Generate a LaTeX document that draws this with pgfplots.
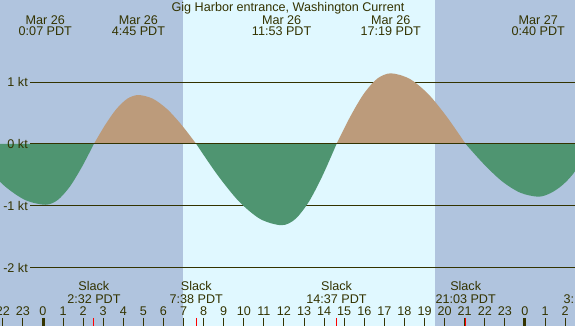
\documentclass[border=0pt]{standalone}
\usepackage{pgfplots}
\pgfplotsset{compat=1.18}
\usepackage{fontspec}
\setmainfont{Liberation Sans}
\definecolor{night}{RGB}{176,196,222}
\definecolor{day}{RGB}{224,248,255}
\definecolor{flood}{RGB}{188,155,123}
\definecolor{ebb}{RGB}{79,149,113}
\definecolor{ink}{RGB}{51,51,0}
\begin{document}
\begin{tikzpicture}[font=\fontsize{12.6bp}{14bp}\selectfont, every node/.style={text=ink, inner sep=0pt}]
\useasboundingbox (0,0) rectangle (575bp,326bp);
\clip (0,0) rectangle (575bp,326bp);
\begin{axis}[at={(0,0)}, anchor=south west, scale only axis,
  width=575bp, height=326bp,
  xmin=-2.1414, xmax=26.494, ymin=-2.9355, ymax=2.3226,
  axis lines=none, clip=true]
% day / night
\fill[night] (axis cs:-3,-3) rectangle (axis cs:6.972,3);
\fill[day] (axis cs:6.972,-3) rectangle (axis cs:19.522,3);
\fill[night] (axis cs:19.522,-3) rectangle (axis cs:27,3);
% grid lines
\draw[ink, line width=1bp] (axis cs:-0.647,1) -- (axis cs:27,1);
\draw[ink, line width=1bp] (axis cs:-0.647,-1) -- (axis cs:27,-1);
\draw[ink, line width=1bp] (axis cs:-0.647,-2) -- (axis cs:27,-2);
% current lobes
\addplot[draw=none, fill=ebb, smooth] coordinates {(-3.83,0) (-2.843,-0.375) (-1.857,-0.693) (-0.870,-0.906) (0.117,-0.98) (0.721,-0.906) (1.325,-0.693) (1.929,-0.375) (2.533,0)} \closedcycle;
\addplot[draw=none, fill=flood, smooth] coordinates {(2.533,0) (3.087,0.303) (3.642,0.559) (4.196,0.730) (4.75,0.79) (5.471,0.730) (6.192,0.559) (6.912,0.303) (7.633,0)} \closedcycle;
\addplot[draw=none, fill=ebb, smooth] coordinates {(7.633,0) (8.696,-0.502) (9.758,-0.926) (10.821,-1.210) (11.883,-1.31) (12.567,-1.210) (13.250,-0.926) (13.934,-0.502) (14.617,0)} \closedcycle;
\addplot[draw=none, fill=flood, smooth] coordinates {(14.617,0) (15.292,0.436) (15.967,0.806) (16.642,1.053) (17.317,1.14) (18.250,1.053) (19.184,0.806) (20.117,0.436) (21.05,0)} \closedcycle;
\addplot[draw=none, fill=ebb, smooth] coordinates {(21.05,0) (21.954,-0.325) (22.858,-0.601) (23.763,-0.785) (24.667,-0.85) (25.290,-0.79) (25.914,-0.65) (26.537,-0.42) (27.16,0)} \closedcycle;
\draw[ink, line width=1bp] (axis cs:-0.647,0) -- (axis cs:27,0);
% kt labels
\node[anchor=east] at (axis cs:-0.747,1) {1 kt};
\node[anchor=east] at (axis cs:-0.747,0) {0 kt};
\node[anchor=east] at (axis cs:-0.747,-1) {-1 kt};
\node[anchor=east] at (axis cs:-0.747,-2) {-2 kt};
% title and extremes
\node[anchor=base] at (axis cs:12.2,2.145) {Gig Harbor entrance, Washington Current};
\node[anchor=base] at (axis cs:0.117,1.935) {Mar 26};
\node[anchor=base] at (axis cs:0.117,1.747) {0:07 PDT};
\node[anchor=base] at (axis cs:4.75,1.935) {Mar 26};
\node[anchor=base] at (axis cs:4.75,1.747) {4:45 PDT};
\node[anchor=base] at (axis cs:11.883,1.935) {Mar 26};
\node[anchor=base] at (axis cs:11.883,1.747) {11:53 PDT};
\node[anchor=base] at (axis cs:17.317,1.935) {Mar 26};
\node[anchor=base] at (axis cs:17.317,1.747) {17:19 PDT};
\node[anchor=base] at (axis cs:24.667,1.935) {Mar 27};
\node[anchor=base] at (axis cs:24.667,1.747) {0:40 PDT};
% slack labels
\node[anchor=base] at (axis cs:2.533,-2.366) {Slack};
\node[anchor=base] at (axis cs:2.533,-2.576) {2:32 PDT};
\node[anchor=base] at (axis cs:7.633,-2.366) {Slack};
\node[anchor=base] at (axis cs:7.633,-2.576) {7:38 PDT};
\node[anchor=base] at (axis cs:14.617,-2.366) {Slack};
\node[anchor=base] at (axis cs:14.617,-2.576) {14:37 PDT};
\node[anchor=base] at (axis cs:21.05,-2.366) {Slack};
\node[anchor=base] at (axis cs:21.05,-2.576) {21:03 PDT};
\node[anchor=base] at (axis cs:27.25,-2.366) {Slack};
\node[anchor=base] at (axis cs:27.25,-2.576) {3:10 PDT};
% hour ticks
\pgfplotsinvokeforeach{-2,...,26}{\draw[ink, line width=1bp] (axis cs:#1,-2.806) -- (axis cs:#1,-3);}
\draw[ink, line width=3bp] (axis cs:0,-2.806) -- (axis cs:0,-3);
\draw[ink, line width=3bp] (axis cs:24,-2.806) -- (axis cs:24,-3);
\draw[red, line width=1bp] (axis cs:2.533,-2.806) -- (axis cs:2.533,-3);
\draw[red, line width=1bp] (axis cs:7.633,-2.806) -- (axis cs:7.633,-3);
\draw[red, line width=1bp] (axis cs:14.617,-2.806) -- (axis cs:14.617,-3);
\draw[red, line width=1bp] (axis cs:21.05,-2.806) -- (axis cs:21.05,-3);
% hour labels
\node[anchor=base] at (axis cs:-2,-2.769) {22};
\node[anchor=base] at (axis cs:-1,-2.769) {23};
\node[anchor=base] at (axis cs:0,-2.769) {0};
\node[anchor=base] at (axis cs:1,-2.769) {1};
\node[anchor=base] at (axis cs:2,-2.769) {2};
\node[anchor=base] at (axis cs:3,-2.769) {3};
\node[anchor=base] at (axis cs:4,-2.769) {4};
\node[anchor=base] at (axis cs:5,-2.769) {5};
\node[anchor=base] at (axis cs:6,-2.769) {6};
\node[anchor=base] at (axis cs:7,-2.769) {7};
\node[anchor=base] at (axis cs:8,-2.769) {8};
\node[anchor=base] at (axis cs:9,-2.769) {9};
\node[anchor=base] at (axis cs:10,-2.769) {10};
\node[anchor=base] at (axis cs:11,-2.769) {11};
\node[anchor=base] at (axis cs:12,-2.769) {12};
\node[anchor=base] at (axis cs:13,-2.769) {13};
\node[anchor=base] at (axis cs:14,-2.769) {14};
\node[anchor=base] at (axis cs:15,-2.769) {15};
\node[anchor=base] at (axis cs:16,-2.769) {16};
\node[anchor=base] at (axis cs:17,-2.769) {17};
\node[anchor=base] at (axis cs:18,-2.769) {18};
\node[anchor=base] at (axis cs:19,-2.769) {19};
\node[anchor=base] at (axis cs:20,-2.769) {20};
\node[anchor=base] at (axis cs:21,-2.769) {21};
\node[anchor=base] at (axis cs:22,-2.769) {22};
\node[anchor=base] at (axis cs:23,-2.769) {23};
\node[anchor=base] at (axis cs:24,-2.769) {0};
\node[anchor=base] at (axis cs:25,-2.769) {1};
\node[anchor=base] at (axis cs:26,-2.769) {2};
\end{axis}
\end{tikzpicture}
\end{document}
